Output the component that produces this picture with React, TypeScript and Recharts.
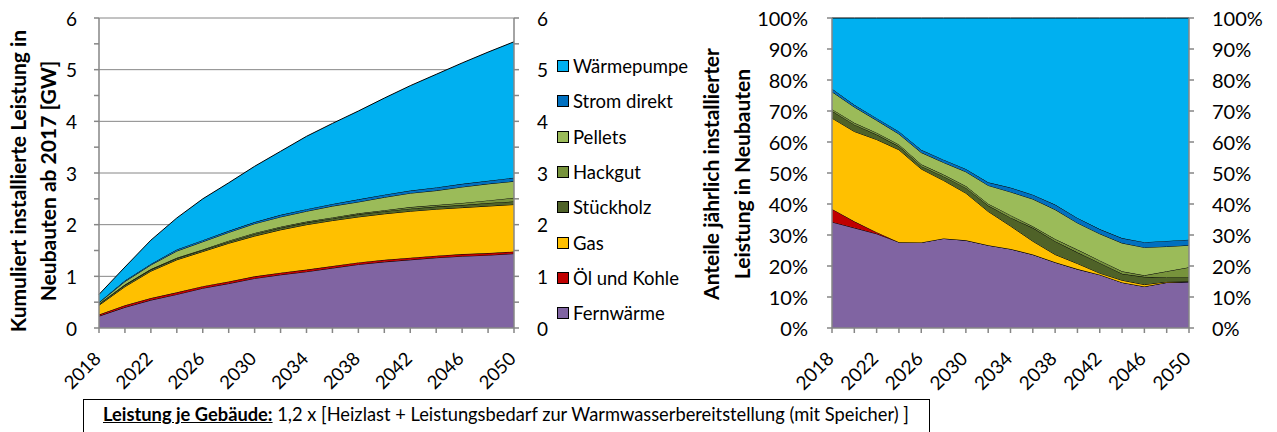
import React from 'react';
import { AreaChart, Area, XAxis, YAxis, CartesianGrid, Label } from 'recharts';

const FONT = 'Lato, "Open Sans", sans-serif';
const AXIS_GRAY = '#868686';

const years = [2018, 2020, 2022, 2024, 2026, 2028, 2030, 2032, 2034, 2036, 2038, 2040, 2042, 2044, 2046, 2048, 2050];

const seriesKeys = ['fern', 'oel', 'gas', 'stueck', 'hack', 'pellets', 'strom', 'wp'];
const seriesNames = ['Fernwärme', 'Öl und Kohle', 'Gas', 'Stückholz', 'Hackgut', 'Pellets', 'Strom direkt', 'Wärmepumpe'];
const seriesColors = ['#8064A2', '#C00000', '#FFC000', '#4F6228', '#77933C', '#9BBB59', '#0070C0', '#00B0F0'];

// Left chart: cumulative installed capacity [GW]
const cumFernwaerme = [0.23, 0.40, 0.54, 0.65, 0.77, 0.86, 0.96, 1.03, 1.09, 1.16, 1.23, 1.28, 1.32, 1.36, 1.39, 1.41, 1.44];
const cumOelKohle = [0.03, 0.04, 0.04, 0.04, 0.04, 0.04, 0.04, 0.04, 0.04, 0.04, 0.04, 0.04, 0.04, 0.04, 0.04, 0.04, 0.04];
const cumGas = [0.18, 0.36, 0.52, 0.63, 0.67, 0.74, 0.78, 0.83, 0.87, 0.88, 0.88, 0.89, 0.90, 0.90, 0.90, 0.91, 0.91];
const cumStueckholz = [0.02, 0.03, 0.03, 0.03, 0.03, 0.03, 0.04, 0.04, 0.04, 0.04, 0.05, 0.05, 0.05, 0.05, 0.05, 0.06, 0.06];
const cumHackgut = [0.01, 0.01, 0.01, 0.01, 0.01, 0.02, 0.02, 0.02, 0.02, 0.02, 0.02, 0.02, 0.03, 0.03, 0.04, 0.05, 0.07];
const cumPellets = [0.02, 0.06, 0.08, 0.13, 0.15, 0.16, 0.18, 0.19, 0.20, 0.22, 0.22, 0.25, 0.27, 0.28, 0.31, 0.32, 0.32];
const cumStromDirekt = [0.01, 0.02, 0.02, 0.03, 0.03, 0.03, 0.03, 0.04, 0.04, 0.04, 0.05, 0.05, 0.05, 0.06, 0.06, 0.06, 0.07];
const cumWaermepumpe = [0.15, 0.26, 0.46, 0.61, 0.80, 0.93, 1.08, 1.23, 1.41, 1.56, 1.71, 1.87, 2.03, 2.19, 2.34, 2.49, 2.63];

// Right chart: annual shares [%]
const shareFernwaerme = [34.2, 32.3, 30.4, 27.7, 27.6, 28.9, 28.3, 26.7, 25.5, 23.7, 21.2, 19.0, 17.2, 14.7, 13.4, 14.7, 14.9];
const shareOelKohle = [4.2, 2.1, 0.5, 0, 0, 0, 0, 0, 0, 0, 0, 0, 0, 0, 0, 0, 0];
const shareGas = [29.3, 29.0, 29.9, 29.8, 23.7, 18.7, 15.2, 10.9, 7.4, 4.3, 2.5, 1.8, 0.5, 0.7, 0.6, 0.2, 0.1];
const shareStueckholz = [2.3, 2.2, 1.6, 1.1, 0.9, 1.3, 1.7, 1.9, 2.7, 4.3, 4.3, 3.6, 3.3, 2.1, 2.5, 1.4, 1.3];
const shareHackgut = [0.6, 0.6, 0.6, 0.6, 0.6, 0.6, 0.6, 0.6, 0.8, 0.5, 0.7, 0.9, 0.8, 0.8, 0.5, 2.0, 3.3];
const sharePellets = [5.6, 5.1, 4.0, 3.4, 3.8, 3.9, 4.6, 5.9, 7.5, 8.8, 9.5, 8.6, 8.6, 9.1, 9.0, 8.0, 7.1];
const shareStromDirekt = [1.0, 0.7, 0.7, 0.8, 0.9, 0.9, 0.9, 1.0, 1.4, 1.4, 1.6, 1.6, 1.5, 1.6, 1.7, 1.8, 1.8];
const shareWaermepumpe = [22.8, 28.0, 32.3, 36.6, 42.5, 45.7, 48.7, 53.0, 54.7, 57.0, 60.2, 64.5, 68.1, 71.0, 72.3, 71.9, 71.5];

const leftTicks = [0, 0.5, 1, 1.5, 2, 2.5, 3, 3.5, 4, 4.5, 5, 5.5, 6];
const leftGrid = [1, 2, 3, 4, 5, 6];
const rightTicks = [0, 10, 20, 30, 40, 50, 60, 70, 80, 90, 100];

const leftTitle = ['Kumuliert installierte Leistung in', 'Neubauten ab 2017 [GW]'];
const rightTitle = ['Anteile jährlich installierter', 'Leistung in Neubauten'];
const noteBold = 'Leistung je Gebäude:';
const noteText = ' 1,2 x [Heizlast + Leistungsbedarf zur Warmwasserbereitstellung (mit Speicher) ]';

const leftSeries = [cumFernwaerme, cumOelKohle, cumGas, cumStueckholz, cumHackgut, cumPellets, cumStromDirekt, cumWaermepumpe];
const rightSeries = [shareFernwaerme, shareOelKohle, shareGas, shareStueckholz, shareHackgut, sharePellets, shareStromDirekt, shareWaermepumpe];

const buildRows = (series: number[][]) =>
  years.map((y, i) => {
    const row: any = { year: String(y) };
    seriesKeys.forEach((k, j) => (row[k] = series[j][i]));
    return row;
  });

const leftData = buildRows(leftSeries);
const rightData = buildRows(rightSeries);

const makeXTick = (fontSize: number) => (props: any) => {
  const { x, y, payload } = props;
  const yr = Number(payload.value);
  if ((yr - 2018) % 4 !== 0) return <g />;
  const x0 = x + 3;
  const y0 = y + 25;
  return (
    <text x={x0} y={y0} transform={`rotate(-45 ${x0} ${y0})`} textAnchor="end" fontFamily={FONT} fontSize={fontSize} fill="#000">
      {yr}
    </text>
  );
};

const makeYTick = (side: 'left' | 'right', fontSize: number, fmt: (v: number) => string, onlyInt: boolean) => (props: any) => {
  const { x, y, payload } = props;
  const v = Number(payload.value);
  if (onlyInt && Math.abs(v - Math.round(v)) > 1e-6) return <g />;
  return (
    <text x={x} y={y} textAnchor={side === 'left' ? 'end' : 'start'} dominantBaseline="central" fontFamily={FONT} fontSize={fontSize} fill="#000">
      {fmt(v)}
    </text>
  );
};

const makeTitle = (lines: string[], xs: number[], cy: number) => () => (
  <g>
    {lines.map((t, i) => (
      <text key={i} x={xs[i]} y={cy} transform={`rotate(-90 ${xs[i]} ${cy})`} textAnchor="middle" dominantBaseline="central" fontFamily={FONT} fontWeight="bold" fontSize={21} fill="#000">
        {t}
      </text>
    ))}
  </g>
);

const renderAreas = (yAxisId: string) =>
  seriesKeys.map((k, j) => (
    <Area
      key={k}
      yAxisId={yAxisId}
      type="linear"
      dataKey={k}
      name={seriesNames[j]}
      stackId="s"
      fill={seriesColors[j]}
      fillOpacity={1}
      stroke="#000"
      strokeWidth={1}
      isAnimationActive={false}
      dot={false}
      activeDot={false}
    />
  ));

// invisible series that binds the secondary (right) axis so that it is drawn
const hiddenArea = (
  <Area
    yAxisId="r"
    type="linear"
    dataKey="fern"
    fill="none"
    stroke="none"
    isAnimationActive={false}
    dot={false}
    activeDot={false}
    legendType="none"
  />
);

export default function App() {
  return (
    <div style={{ position: 'absolute', left: 0, top: 0, width: 1277, height: 432, overflow: 'hidden', background: '#fff', fontFamily: FONT }}>
      <div style={{ position: 'absolute', left: 0, top: 0 }}>
        <AreaChart width={620} height={432} data={leftData} margin={{ top: 18, right: 66, bottom: 44, left: 0 }}>
          <CartesianGrid yAxisId="l" vertical={false} horizontalValues={leftGrid} stroke={AXIS_GRAY} strokeWidth={1} />
          <XAxis dataKey="year" interval={0} tick={makeXTick(18.5)} tickSize={5} stroke={AXIS_GRAY} strokeWidth={1.5} height={60} />
          <YAxis
            yAxisId="l"
            orientation="left"
            width={99}
            domain={[0, 6]}
            ticks={leftTicks}
            interval={0}
            tickSize={5}
            tickMargin={17}
            stroke={AXIS_GRAY}
            strokeWidth={1.5}
            tick={makeYTick('left', 19, (v) => String(v), true)}
          >
            <Label content={makeTitle(leftTitle, [17, 47], 181)} />
          </YAxis>
          <YAxis
            yAxisId="r"
            orientation="right"
            width={40}
            domain={[0, 6]}
            ticks={leftTicks}
            interval={0}
            tickSize={5}
            tickMargin={18}
            stroke={AXIS_GRAY}
            strokeWidth={1.5}
            tick={makeYTick('right', 19, (v) => String(v), true)}
          />
          {hiddenArea}
          {renderAreas('l')}
        </AreaChart>
      </div>

      <div style={{ position: 'absolute', left: 620, top: 0 }}>
        <AreaChart width={657} height={432} data={rightData} margin={{ top: 18, right: 28, bottom: 44, left: 0 }}>
          <XAxis dataKey="year" interval={0} tick={makeXTick(19)} tickSize={5} stroke={AXIS_GRAY} strokeWidth={1.5} height={60} />
          <YAxis
            yAxisId="l"
            orientation="left"
            width={212}
            domain={[0, 100]}
            ticks={rightTicks}
            interval={0}
            tickSize={5}
            tickMargin={19}
            stroke={AXIS_GRAY}
            strokeWidth={1.5}
            tick={makeYTick('left', 20, (v) => v + '%', false)}
          >
            <Label content={makeTitle(rightTitle, [90, 121], 174)} />
          </YAxis>
          <YAxis
            yAxisId="r"
            orientation="right"
            width={60}
            domain={[0, 100]}
            ticks={rightTicks}
            interval={0}
            tickSize={5}
            tickMargin={18}
            stroke={AXIS_GRAY}
            strokeWidth={1.5}
            tick={makeYTick('right', 20, (v) => v + '%', false)}
          />
          {hiddenArea}
          {renderAreas('l')}
        </AreaChart>
      </div>

      {/* Legend */}
      {seriesNames
        .map((name, j) => ({ name, color: seriesColors[j], j }))
        .reverse()
        .map((it, idx) => {
          const cy = 66 + idx * 35.3;
          return (
            <div key={it.name} style={{ position: 'absolute', left: 557, top: cy - 6, height: 12, display: 'flex', alignItems: 'center' }}>
              <div style={{ width: 10, height: 10, background: it.color, border: '1px solid #000' }} />
              <div style={{ marginLeft: 4, fontSize: 18.5, lineHeight: '12px', color: '#000', whiteSpace: 'nowrap' }}>{it.name}</div>
            </div>
          );
        })}

      {/* Note box */}
      <div style={{ position: 'absolute', left: 83, top: 399, width: 847, height: 40, border: '1px solid #000', boxSizing: 'border-box' }}>
        <div style={{ position: 'absolute', left: 19, top: 3, fontSize: 18.3, whiteSpace: 'nowrap', color: '#000' }}>
          <span style={{ fontWeight: 'bold', textDecoration: 'underline' }}>{noteBold}</span>
          {noteText}
        </div>
      </div>
    </div>
  );
}
